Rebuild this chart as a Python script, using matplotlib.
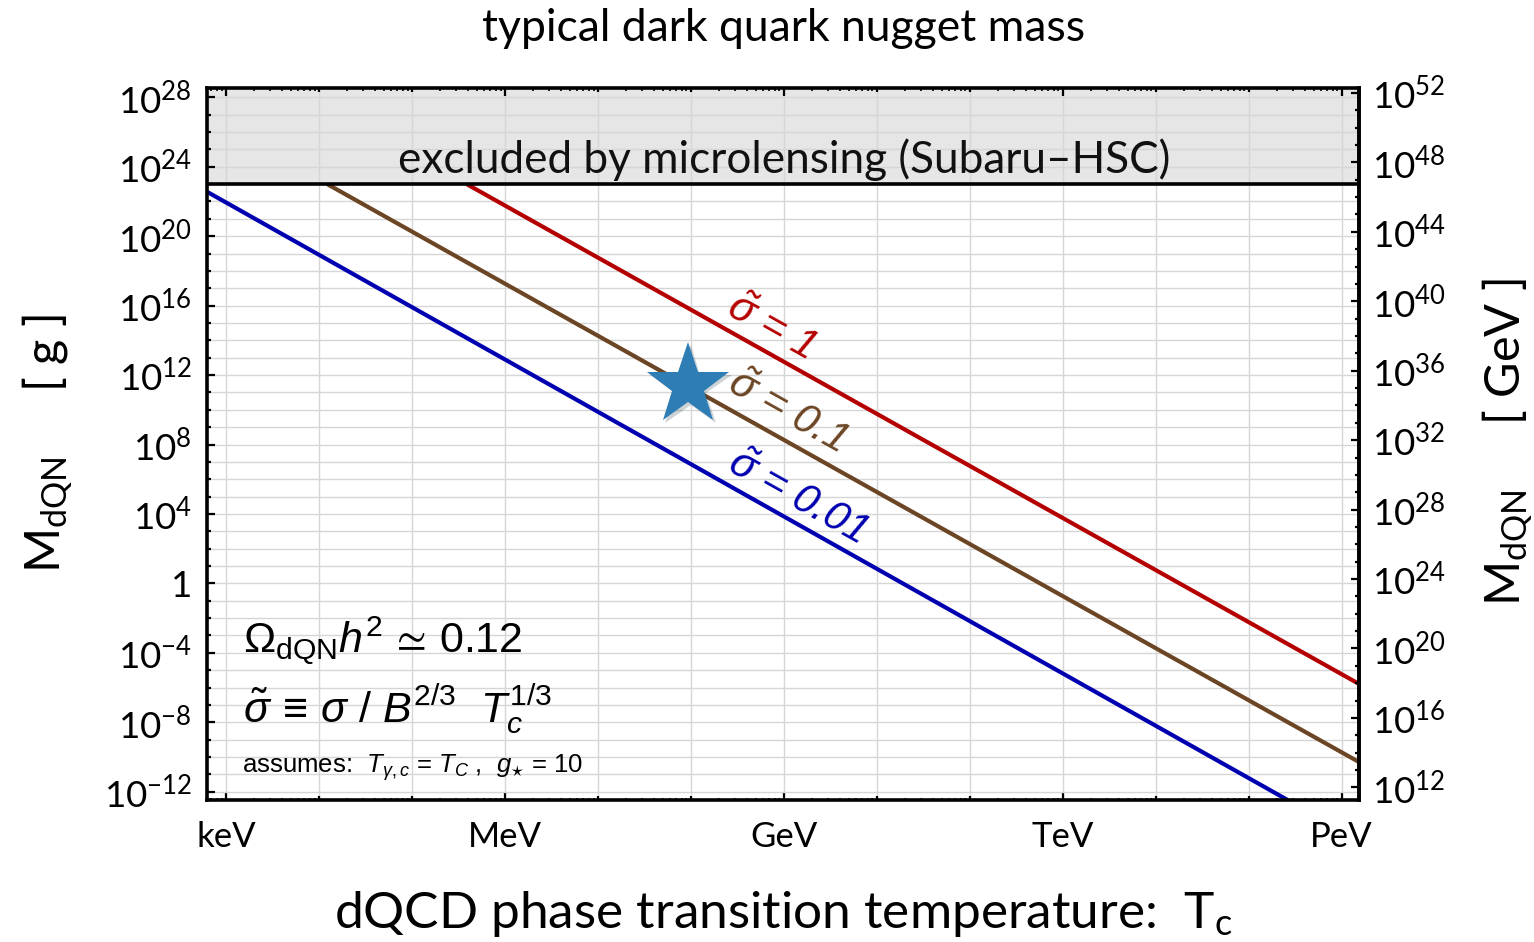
import matplotlib
matplotlib.use("Agg")
import numpy as np
import matplotlib.pyplot as plt
from matplotlib import patheffects as pe
from matplotlib.ticker import FixedLocator, FixedFormatter, NullFormatter

plt.rcParams["font.family"] = ["Lato", "DejaVu Sans"]
plt.rcParams["mathtext.fontset"] = "custom"
plt.rcParams["mathtext.rm"] = "Liberation Sans"
plt.rcParams["mathtext.it"] = "Liberation Sans:italic"
plt.rcParams["mathtext.bf"] = "Liberation Sans:bold"
plt.rcParams["mathtext.fallback"] = "stixsans"

# values (log10 of T in GeV, log10 of M in grams)
sigma_labels = ["1", "0.1", "0.01"]
logT_red = [-3.41, 6.19]
logM_red = [23.0, -5.80]
logT_brown = [-4.91, 6.19]
logM_brown = [23.0, -10.30]
logT_blue = [-6.20, 5.42]
logM_blue = [22.55, -12.48]
excl_logM = 23.0          # Subaru-HSC microlensing bound
star_logT = -1.03
star_logM = 11.4

energy_ticks = [1e-6, 1e-3, 1.0, 1e3, 1e6]
energy_labels = ["keV", "MeV", "GeV", "TeV", "PeV"]
GEV_PER_GRAM = 5.61e23

colors = {"red": "#b40000", "brown": "#6b4524", "blue": "#0000b0"}

xlim = (10**-6.20, 10**6.19)
ylim = (10**-12.48, 10**28.52)

fig = plt.figure(figsize=(15.34, 9.42), dpi=100)
ax = fig.add_axes([0.1351, 0.1507, 0.7510, 0.7556])
ax.set_xscale("log")
ax.set_yscale("log")
ax.set_xlim(xlim)
ax.set_ylim(ylim)
ax.set_axisbelow(True)

# excluded band
ax.axhspan(10**excl_logM, 1e40, color="#e6e6e6", zorder=0.2, lw=0)
ax.axhline(10**excl_logM, color="black", lw=2.6, zorder=3)
ax.text(1.0, 10**24.4, "excluded by microlensing (Subaru\u2013HSC)",
        ha="center", va="center", fontsize=31.8, color="#111111", zorder=4)

# the three sigma-tilde lines
for key, lt, lm in [("red", logT_red, logM_red),
                    ("brown", logT_brown, logM_brown),
                    ("blue", logT_blue, logM_blue)]:
    ax.plot(10**np.array(lt), 10**np.array(lm), color=colors[key], lw=3.0,
            solid_capstyle="butt", zorder=2)

label_pos = [(-0.14, 14.71), (0.03, 9.87), (0.14, 4.92)]
for lab, key, (lx, ly) in zip(sigma_labels, ["red", "brown", "blue"], label_pos):
    ax.text(10**lx, 10**ly, r"$\tilde{\sigma}$ = " + lab, color=colors[key],
            fontsize=30, family="Liberation Sans", style="italic",
            rotation=-29.25, ha="center", va="center", zorder=4)

ax.plot(10**star_logT, 10**star_logM, marker="*", ms=62, color="#2f7db5",
        mec="none", zorder=5,
        path_effects=[pe.SimplePatchShadow(offset=(2, -2), alpha=0.2), pe.Normal()])

# x ticks: every decade, long ones at keV, MeV, ...
decades_x = [10.0**k for k in range(-6, 7)]
xlabels = []
for d in decades_x:
    xlabels.append(energy_labels[energy_ticks.index(d)] if d in energy_ticks else "")
ax.xaxis.set_major_locator(FixedLocator(decades_x))
ax.xaxis.set_major_formatter(FixedFormatter(xlabels))
ax.xaxis.set_minor_locator(FixedLocator([m * 10.0**k for k in range(-7, 7) for m in range(2, 10)]))
ax.xaxis.set_minor_formatter(NullFormatter())

# left y ticks (grams)
ymaj = [10.0**k for k in range(-12, 29, 4)]
ylab = ["1" if k == 0 else r"$\mathregular{10^{%d}}$" % k for k in range(-12, 29, 4)]
ax.yaxis.set_major_locator(FixedLocator(ymaj))
ax.yaxis.set_major_formatter(FixedFormatter(ylab))
ax.yaxis.set_minor_locator(FixedLocator([10.0**k for k in range(-13, 29)]))
ax.yaxis.set_minor_formatter(NullFormatter())

ax.grid(True, which="major", axis="x", color="#d6d6d6", lw=1.0)
ax.grid(True, which="both", axis="y", color="#d6d6d6", lw=1.0)

ax.tick_params(axis="x", which="major", direction="in", top=True, bottom=True,
               length=3.0, width=1.6, labelsize=25, pad=15, colors="black")
ax.tick_params(axis="x", which="minor", direction="in", top=True, bottom=True,
               length=1.8, width=1.2)
ax.tick_params(axis="y", which="major", direction="in", left=True, right=False,
               length=5.5, width=1.6, labelsize=26.5, pad=11)
ax.tick_params(axis="y", which="minor", direction="in", left=True, right=False,
               length=2.8, width=1.6)
for i, t in enumerate(ax.xaxis.get_major_ticks(len(decades_x))):
    if decades_x[i] in energy_ticks:
        t.tick1line.set_markersize(5.5)
        t.tick2line.set_markersize(5.5)

for s in ax.spines.values():
    s.set_linewidth(2.6)

# right y axis (GeV)
ax2 = ax.twinx()
ax2.set_yscale("log")
ax2.set_ylim(ylim[0] * GEV_PER_GRAM, ylim[1] * GEV_PER_GRAM)
ymaj2 = [10.0**k for k in range(12, 53, 4)]
ax2.yaxis.set_major_locator(FixedLocator(ymaj2))
ax2.yaxis.set_major_formatter(FixedFormatter([r"$\mathregular{10^{%d}}$" % k for k in range(12, 53, 4)]))
ax2.yaxis.set_minor_locator(FixedLocator([10.0**k for k in range(11, 53)]))
ax2.yaxis.set_minor_formatter(NullFormatter())
ax2.tick_params(axis="y", which="major", direction="in", length=5.5, width=1.6,
                labelsize=26.5, pad=9)
ax2.tick_params(axis="y", which="minor", direction="in", length=2.8, width=1.6)
for name, s in ax2.spines.items():
    s.set_visible(name == "right")
    s.set_linewidth(2.6)

# annotations
ax.text(0.031, 0.225, r"$\Omega_{\rm dQN}h^2\,\simeq\,0.12$", transform=ax.transAxes,
        fontsize=31, ha="left", va="center", zorder=4)
ax.text(0.031, 0.128, r"$\tilde{\sigma}\,\equiv\,\sigma\ /\ B^{2/3}\ \ T_c^{1/3}$",
        transform=ax.transAxes, fontsize=31, ha="left", va="center", zorder=4)
ax.text(0.030, 0.045, r"assumes:  $T_{\gamma,c}$ = $T_C$ ,  $g_{\star}$ = 10",
        transform=ax.transAxes, fontsize=18.5, ha="left", va="center",
        family="Liberation Sans", zorder=4)

# titles and axis labels
fig.text(0.5106, 0.970, "typical dark quark nugget mass", ha="center", va="center",
         fontsize=32)
fig.text(0.5106, 0.030, r"dQCD phase transition temperature:  T$\mathregular{_c}$",
         ha="center", va="center", fontsize=37)
fig.text(0.031, 0.529, r"$\mathregular{M_{dQN}}$     [ g ]", rotation=90,
         ha="center", va="center", fontsize=35)
fig.text(0.983, 0.531, r"$\mathregular{M_{dQN}}$     [ GeV ]", rotation=90,
         ha="center", va="center", fontsize=35)

fig.savefig("out.png", dpi=100)
